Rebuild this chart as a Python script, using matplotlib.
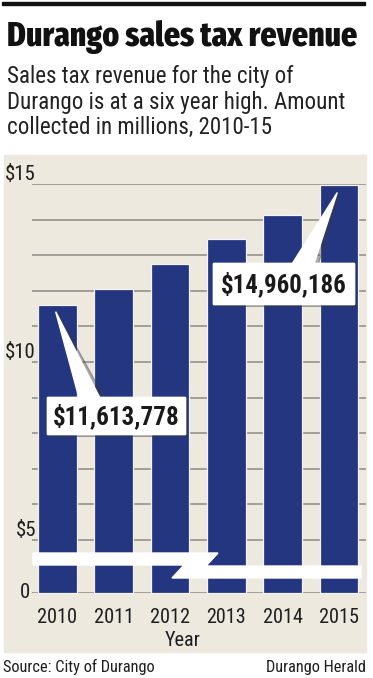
import matplotlib
matplotlib.use("Agg")
import matplotlib.pyplot as plt
import matplotlib.patheffects as pe
import numpy as np
from matplotlib.patches import Polygon, Rectangle

years = ["2010", "2011", "2012", "2013", "2014", "2015"]
revenue = [11.613778, 12.04, 12.75, 13.45, 14.12, 14.960186]  # millions of dollars
ytick_vals = [0, 5, 10, 15]
ytick_labels = ["0", "$5", "$10", "$15"]
callout_bars = [0, 5]

W, H = 373, 678
NAVY = "#24367f"
BEIGE = "#eee9df"
GRID = "#8d8b86"
INK = "#1e1e1e"
COND = ["Roboto Condensed", "Fira Sans Condensed", "PT Sans Narrow",
        "Archivo Narrow", "DejaVu Sans"]
HEAVY = ["Fira Sans Extra Condensed", "Roboto Condensed", "DejaVu Sans"]

# broken axis: full scale above $5, compressed below
BREAK = 5.0
K = 0.298


def fwd(v):
    v = np.asarray(v, dtype=float)
    return np.where(v >= BREAK, v, BREAK - (BREAK - v) * K)


def inv(u):
    u = np.asarray(u, dtype=float)
    return np.where(u >= BREAK, u, BREAK - (BREAK - u) / K)


def fx(x):
    return x / W


def fy(y):
    return 1 - y / H


fig = plt.figure(figsize=(W / 100, H / 100), dpi=100)
fig.patch.set_facecolor("white")
renderer = fig.canvas.get_renderer()


def fit(t, width):
    w = t.get_window_extent(renderer).width
    t.set_fontsize(t.get_fontsize() * width / w)
    return t.get_fontsize()


# top rule, title, subtitle
fig.add_artist(Rectangle((fx(2), fy(5)), fx(363), 3 / H, color="#111111",
                         transform=fig.transFigure))
title = fig.text(fx(7), fy(46), "Durango sales tax revenue", family=HEAVY,
                 fontweight=800, fontsize=25, color="#111111", va="baseline")
fit(title, 351)

subtitle = ["Sales tax revenue for the city of",
            "Durango is at a six year high. Amount",
            "collected in millions, 2010-15"]
subs = [fig.text(fx(7), fy(83 + 25.5 * i), line, family=COND, fontsize=16.5,
                 color="#222222", va="baseline") for i, line in enumerate(subtitle)]
size = fit(subs[1], 338)
for t in subs:
    t.set_fontsize(size)

# chart panel
fig.add_artist(Rectangle((fx(4), fy(652)), fx(362), (652 - 155) / H,
                         color=BEIGE, transform=fig.transFigure, zorder=0))

ax = fig.add_axes([fx(32), fy(593), fx(366 - 32), (593 - 184) / H])
ax.set_facecolor("none")
ax.set_yscale("function", functions=(fwd, inv))
ax.set_ylim(0, 15)
ax.set_xlim(-0.45, 5.48)
x = np.arange(len(years))
ax.bar(x, revenue, width=0.685, color=NAVY, edgecolor="#f4f4f8",
       linewidth=0.9, zorder=2, clip_on=False)

ax.set_yticks([0] + list(range(5, 16)))
ax.yaxis.grid(True, color=GRID, linewidth=1.1)
ax.set_axisbelow(True)
ax.tick_params(axis="y", length=0, labelleft=False)
ax.set_xticks(x, years, family=COND, fontsize=16, color=INK)
ax.tick_params(axis="x", length=0, pad=11)
for s in ax.spines.values():
    s.set_visible(False)
for lab in ax.get_xticklabels():
    fit(lab, 40)
ax.set_xlabel("Year", family=COND, fontsize=ax.get_xticklabels()[0].get_fontsize(),
              color=INK, va="center")
ax.xaxis.set_label_coords((183 - 32) / 334, -(640 - 593) / 409)

for v, lab in zip(ytick_vals, ytick_labels):
    va = "center" if v == 0 else "bottom"
    ax.text(0.012 if v else -0.006, v, lab, transform=ax.get_yaxis_transform(),
            ha="right", va=va, family=COND, fontsize=15, color=INK)

# break marker
band = [(33, 553), (218, 553), (206, 566), (361, 566), (361, 578),
        (172, 578), (184, 565), (33, 565)]
fig.add_artist(Polygon([(fx(a), fy(b)) for a, b in band], closed=True,
                       color="white", transform=fig.transFigure, zorder=3))

# callouts
to_fig = ax.transData + fig.transFigure.inverted()
boxes = [(47, 397, 185, 434), (213, 263, 354, 304)]
bases = [((79, 398), (100, 398)), ((292, 264), (314, 264))]
for i, box, base in zip(callout_bars, boxes, bases):
    tip = to_fig.transform((i - 0.03, revenue[i] - 0.2))
    b0 = (fx(base[0][0]), fy(base[0][1]))
    b1 = (fx(base[1][0]), fy(base[1][1]))
    shadow = Polygon([tip + np.array([0.006, -0.002]), b0, (b1[0] + 0.012, b1[1])],
                     closed=True, color="#3a3a3a", alpha=0.35,
                     transform=fig.transFigure, zorder=4)
    fig.add_artist(shadow)
    fig.add_artist(Polygon([tip, b0, b1], closed=True, color="white",
                           transform=fig.transFigure, zorder=5))
    x0, y0, x1, y1 = box
    rect = Rectangle((fx(x0), fy(y1)), fx(x1 - x0), (y1 - y0) / H,
                     color="white", transform=fig.transFigure, zorder=5)
    rect.set_path_effects([pe.withSimplePatchShadow(offset=(2, -2),
                                                    shadow_rgbFace="#333333",
                                                    alpha=0.45), pe.Normal()])
    fig.add_artist(rect)
    t = fig.text(fx((x0 + x1) / 2), fy((y0 + y1) / 2 + 1), f"${revenue[i] * 1e6:,.0f}",
                 family=COND, fontweight="bold", fontsize=17.5, color="#1a1a1a",
                 ha="center", va="center", zorder=6)
    fit(t, 125)

# footer
src = fig.text(fx(3), fy(672), "Source: City of Durango", family=COND, fontsize=13,
               color=INK, va="baseline")
fit(src, 152)
fig.text(fx(366), fy(672), "Durango Herald", family=COND, fontsize=src.get_fontsize(),
         color=INK, va="baseline", ha="right")

fig.savefig("out.png", dpi=100)
